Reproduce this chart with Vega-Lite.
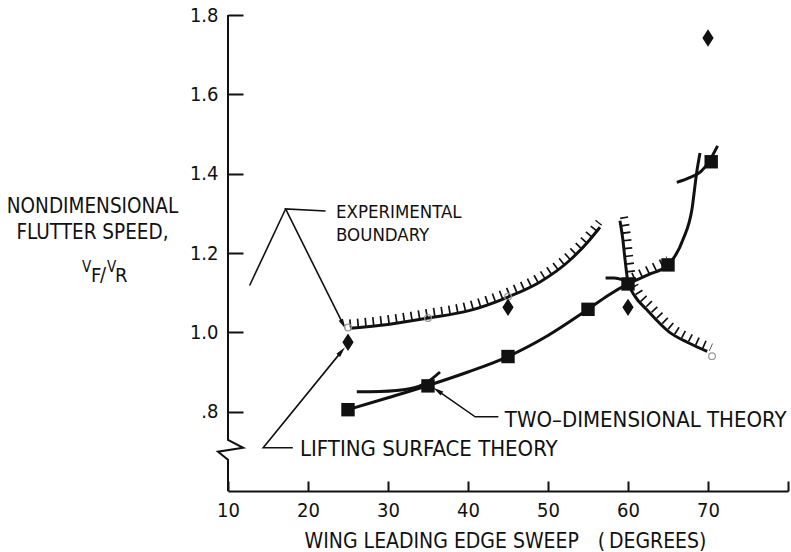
{
  "$schema": "https://vega.github.io/schema/vega-lite/v6.json",
  "width": 560,
  "height": 476,
  "autosize": {"type": "none"},
  "padding": {"left": 228, "top": 15, "right": 3, "bottom": 61},
  "background": "white",
  "config": {"font": "DejaVu Sans Condensed", "view": {"stroke": null}, "axis": {"grid": false}},
  "datasets": {
    "yax": [{"o":1,"x":10,"y":1.8},{"o":2,"x":10,"y":0.729},{"o":3,"x":11.9,"y":0.709},{"o":4,"x":8.75,"y":0.699},{"o":5,"x":10,"y":0.679},{"o":6,"x":10,"y":0.6}],
    "boundA": [{"x":25.3,"y":1.010},{"x":30,"y":1.020},{"x":35,"y":1.036},{"x":40,"y":1.054},{"x":45,"y":1.089},{"x":49,"y":1.127},{"x":52.8,"y":1.183},{"x":55.2,"y":1.233},{"x":56.5,"y":1.265}],
    "boundB": [{"x":59.0,"y":1.281},{"x":59.35,"y":1.235},{"x":59.65,"y":1.18},{"x":60.0,"y":1.127},{"x":60.9,"y":1.09},{"x":62.3,"y":1.058},{"x":65.2,"y":1.0},{"x":67.4,"y":0.975},{"x":69.9,"y":0.952}],
    "twoD": [{"x":25,"y":0.805},{"x":30,"y":0.835},{"x":35,"y":0.866},{"x":40,"y":0.9},{"x":45,"y":0.939},{"x":50,"y":0.992},{"x":55,"y":1.058},{"x":57.5,"y":1.093},{"x":60,"y":1.122},{"x":62.5,"y":1.145},{"x":65,"y":1.17},{"x":66.9,"y":1.235},{"x":68.0,"y":1.311},{"x":68.6,"y":1.405},{"x":69.0,"y":1.452}],
    "hatchC": [{"x":60.6,"y":1.127},{"x":62.5,"y":1.145},{"x":65,"y":1.17}],
    "crossD": [{"x":26.1,"y":0.850},{"x":29,"y":0.851},{"x":32.7,"y":0.858},{"x":34.8,"y":0.873},{"x":36.5,"y":0.9}],
    "crossF": [{"x":66.1,"y":1.378},{"x":67.7,"y":1.39},{"x":69.1,"y":1.405},{"x":70.1,"y":1.43},{"x":71.2,"y":1.47}],
    "crossE": [{"x":57.2,"y":1.137},{"x":58.3,"y":1.137},{"x":59.3,"y":1.133}],
    "squares": [{"x":25,"y":0.805},{"x":35,"y":0.865},{"x":45,"y":0.939},{"x":55,"y":1.058},{"x":60,"y":1.122},{"x":65,"y":1.17},{"x":70.4,"y":1.43}],
    "diamonds": [{"x":25,"y":0.975},{"x":45,"y":1.063},{"x":60,"y":1.063},{"x":70,"y":1.742}],
    "circles": [{"x":25,"y":1.012},{"x":35,"y":1.036},{"x":45,"y":1.09},{"x":70.5,"y":0.94}],
    "leadExp": [{"o":1,"x":22.2,"y":1.306},{"o":2,"x":17.2,"y":1.311},{"o":3,"x":24.4,"y":1.02}],
    "leadExp2": [{"o":1,"x":17.2,"y":1.311},{"o":2,"x":12.7,"y":1.118}],
    "leadLift": [{"o":1,"x":18.1,"y":0.709},{"o":2,"x":14.4,"y":0.709},{"o":3,"x":24.2,"y":0.952}],
    "leadTwo": [{"o":1,"x":43.8,"y":0.787},{"o":2,"x":40.9,"y":0.787},{"o":3,"x":36.2,"y":0.853}],
    "notesA": [{"t":"EXPERIMENTAL","x":23.5,"y":1.304},{"t":"BOUNDARY","x":23.5,"y":1.246}],
    "notesB": [{"t":"LIFTING SURFACE THEORY","x":19.0,"y":0.707},{"t":"TWO–DIMENSIONAL THEORY","x":44.6,"y":0.780}],
    "ylabSmall": [{"t":"V","x":-8.25,"y":1.153},{"t":"V","x":-5.125,"y":1.153}],
    "ylabBig": [{"t":"F","x":-7.125,"y":1.128},{"t":"/","x":-6.0,"y":1.13},{"t":"R","x":-4.125,"y":1.128}]
  },
  "encoding": {
    "x": {"field": "x", "type": "quantitative",
      "scale": {"domain": [10, 80], "nice": false, "zero": false},
      "axis": {"values": [10,20,30,40,50,60,70,80], "labelExpr": "datum.value == 80 ? '' : datum.label",
        "tickSize": -10, "tickWidth": 2, "tickColor": "#111", "domainColor": "#111", "domainWidth": 2,
        "labelFontSize": 20, "labelColor": "#111", "labelPadding": 35, "labelBaseline": "alphabetic", "labelFlush": false,
        "title": "WING LEADING EDGE SWEEP\u2002\u2002(\u2009DEGREES)", "titleFontSize": 21, "titleFontWeight": "normal", "titleColor": "#111",
        "titleX": 277, "titleY": 56, "titleBaseline": "alphabetic", "titleAlign": "center"}},
    "y": {"field": "y", "type": "quantitative",
      "scale": {"domain": [0.6, 1.8], "nice": false, "zero": false},
      "axis": {"values": [0.8,1.0,1.2,1.4,1.6,1.8], "labelExpr": "datum.value < 0.9 ? '.8' : format(datum.value, '.1f')",
        "domain": false, "tickSize": -15, "tickWidth": 2, "tickColor": "#111",
        "labelFontSize": 20, "labelColor": "#111", "labelPadding": 25, "labelFlush": false,
        "title": ["NONDIMENSIONAL", "FLUTTER SPEED,"], "titleAngle": 0, "titleAlign": "center", "titleX": -136, "titleY": 197,
        "titleBaseline": "alphabetic", "titleLineHeight": 26, "titleFontSize": 20.5, "titleFontWeight": "normal", "titleColor": "#111"}}
  },
  "layer": [
    {"data": {"name": "yax"}, "mark": {"type": "line", "color": "#111", "strokeWidth": 2, "interpolate": "linear"}, "encoding": {"order": {"field": "o"}}},
    {"data": {"name": "boundA"}, "mark": {"type": "line", "color": "#111", "strokeWidth": 3, "interpolate": "monotone"}},
    {"data": {"name": "boundA"}, "mark": {"type": "line", "color": "#111", "strokeWidth": 8, "strokeDash": [1.7, 6], "interpolate": "monotone", "yOffset": -5, "xOffset": -1}},
    {"data": {"name": "boundB"}, "mark": {"type": "line", "color": "#111", "strokeWidth": 3, "interpolate": "monotone"}},
    {"data": {"name": "boundB"}, "mark": {"type": "line", "color": "#111", "strokeWidth": 8, "strokeDash": [1.7, 6], "interpolate": "monotone", "yOffset": -4, "xOffset": 4}},
    {"data": {"name": "twoD"}, "mark": {"type": "line", "color": "#111", "strokeWidth": 3, "interpolate": "monotone"}},
    {"data": {"name": "hatchC"}, "mark": {"type": "line", "color": "#111", "strokeWidth": 8, "strokeDash": [1.7, 6], "interpolate": "monotone", "yOffset": -5}},
    {"data": {"name": "crossD"}, "mark": {"type": "line", "color": "#111", "strokeWidth": 3, "interpolate": "monotone"}},
    {"data": {"name": "crossF"}, "mark": {"type": "line", "color": "#111", "strokeWidth": 3, "interpolate": "monotone"}},
    {"data": {"name": "crossE"}, "mark": {"type": "line", "color": "#111", "strokeWidth": 3, "interpolate": "monotone"}},
    {"data": {"name": "leadExp"}, "mark": {"type": "line", "color": "#111", "strokeWidth": 1.6, "interpolate": "linear"}, "encoding": {"order": {"field": "o"}}},
    {"data": {"name": "leadExp2"}, "mark": {"type": "line", "color": "#111", "strokeWidth": 1.6, "interpolate": "linear"}, "encoding": {"order": {"field": "o"}}},
    {"data": {"name": "leadLift"}, "mark": {"type": "line", "color": "#111", "strokeWidth": 1.6, "interpolate": "linear"}, "encoding": {"order": {"field": "o"}}},
    {"data": {"name": "leadTwo"}, "mark": {"type": "line", "color": "#111", "strokeWidth": 1.6, "interpolate": "linear"}, "encoding": {"order": {"field": "o"}}},
    {"data": {"name": "leadExp"}, "transform": [{"filter": "datum.o == 3"}], "mark": {"type": "point", "shape": "M0,-1L0.45,1L-0.45,1Z", "size": 110, "filled": true, "color": "#111", "opacity": 1, "angle": 153}},
    {"data": {"name": "leadLift"}, "transform": [{"filter": "datum.o == 3"}], "mark": {"type": "point", "shape": "M0,-1L0.45,1L-0.45,1Z", "size": 110, "filled": true, "color": "#111", "opacity": 1, "angle": 40}},
    {"data": {"name": "leadTwo"}, "transform": [{"filter": "datum.o == 3"}], "mark": {"type": "point", "shape": "M0,-1L0.45,1L-0.45,1Z", "size": 110, "filled": true, "color": "#111", "opacity": 1, "angle": 304}},
    {"data": {"name": "circles"}, "mark": {"type": "point", "shape": "circle", "size": 45, "filled": false, "color": "#999", "strokeWidth": 1.2, "opacity": 1}},
    {"data": {"name": "squares"}, "mark": {"type": "point", "shape": "square", "size": 180, "filled": true, "color": "#111", "opacity": 1}},
    {"data": {"name": "diamonds"}, "mark": {"type": "point", "shape": "M0,-1L0.65,0L0,1L-0.65,0Z", "size": 300, "filled": true, "color": "#111", "opacity": 1}},
    {"data": {"name": "notesA"}, "mark": {"type": "text", "align": "left", "baseline": "middle", "fontSize": 18.5, "color": "#111"}, "encoding": {"text": {"field": "t"}}},
    {"data": {"name": "notesB"}, "mark": {"type": "text", "align": "left", "baseline": "middle", "fontSize": 22, "color": "#111"}, "encoding": {"text": {"field": "t"}}},
    {"data": {"name": "ylabSmall"}, "mark": {"type": "text", "align": "left", "baseline": "alphabetic", "fontSize": 15, "color": "#111"}, "encoding": {"text": {"field": "t"}}},
    {"data": {"name": "ylabBig"}, "mark": {"type": "text", "align": "left", "baseline": "alphabetic", "fontSize": 20, "color": "#111"}, "encoding": {"text": {"field": "t"}}}
  ]
}
